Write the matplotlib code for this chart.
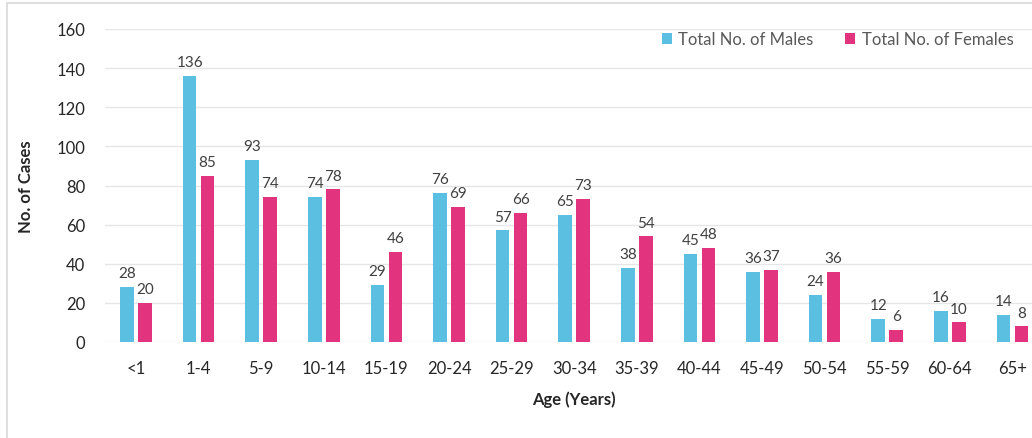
import matplotlib
matplotlib.use("Agg")
import matplotlib.pyplot as plt
import matplotlib.patches as patches
import numpy as np

plt.rcParams['font.family'] = ['Lato', 'DejaVu Sans']

ages = ['<1', '1-4', '5-9', '10-14', '15-19', '20-24', '25-29', '30-34',
        '35-39', '40-44', '45-49', '50-54', '55-59', '60-64', '65+']
males = [28, 136, 93, 74, 29, 76, 57, 65, 38, 45, 36, 24, 12, 16, 14]
females = [20, 85, 74, 78, 46, 69, 66, 73, 54, 48, 37, 36, 6, 10, 8]

male_col = '#5bbfe2'
female_col = '#e2337f'

fig = plt.figure(figsize=(10.32, 4.39), dpi=100)
# outer frame of the original chart
fig.patches.append(patches.Rectangle((7/1032, -0.1), 1.2, (439 - 4)/439 + 0.1,
                                     transform=fig.transFigure, fill=False,
                                     edgecolor='#d9d9d9', linewidth=1.2))
ax = fig.add_axes([104.7/1032, (439-343)/439, 939/1032, 313/439])

x = np.arange(len(ages))
w = 0.218
off = 0.143
b1 = ax.bar(x - off, males, w, color=male_col, label='Total No. of Males', zorder=3)
b2 = ax.bar(x + off, females, w, color=female_col, label='Total No. of Females', zorder=3)

for bars in (b1, b2):
    for r in bars:
        h = r.get_height()
        ax.text(r.get_x() + r.get_width()/2, h + 3.5, str(int(h)), ha='center', va='bottom',
                fontsize=11, color='#404040')

ax.set_xlim(-0.5, len(ages) - 0.5)
ax.set_ylim(0, 160)
ax.set_yticks(range(0, 161, 20))
ax.set_xticks(x)
ax.set_xticklabels(ages)
ax.tick_params(axis='both', length=0, labelsize=12, colors='#262626')
ax.tick_params(axis='x', pad=13)
ax.tick_params(axis='y', pad=14)
ax.grid(axis='y', color='#e6e6e6', linewidth=1, zorder=0)
for s in ax.spines.values():
    s.set_visible(False)

ax.set_ylabel('No. of Cases', fontsize=12, fontweight='bold', color='#262626', labelpad=16)
ax.set_xlabel('Age (Years)', fontsize=12, fontweight='bold', color='#262626', labelpad=10)

ax.legend(loc='upper right', bbox_to_anchor=(1022/1032, 415/439), bbox_transform=fig.transFigure,
          ncol=2, frameon=False, fontsize=12, handlelength=0.6, handleheight=0.6,
          handletextpad=0.4, columnspacing=1.9, labelcolor='#595959', borderpad=0)

fig.savefig('out.png', dpi=100)
